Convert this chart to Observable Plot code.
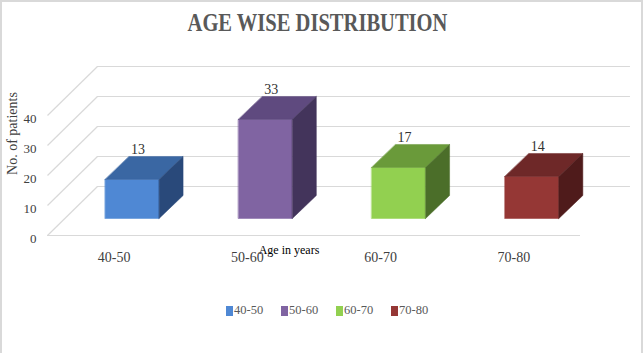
<!DOCTYPE html>
<html>
<head>
<meta charset="utf-8">
<script src="https://cdn.jsdelivr.net/npm/d3@7"></script>
<script src="https://cdn.jsdelivr.net/npm/@observablehq/plot@0.6"></script>
<style>
  body { margin: 0; background: #fff; }
  #chart { position: relative; width: 644px; height: 353px; overflow: hidden; background: #fff; }
  #chart svg { position: absolute; left: 0; top: 0; }
  #frame { position: absolute; left: 0; top: 0; width: 643px; height: 360px; box-sizing: border-box;
           border-top: 2px solid #d9d9d9; border-left: 2px solid #d9d9d9; border-right: 2px solid #d9d9d9; pointer-events: none; }
  #title { position: absolute; left: 0; width: 634px; top: 8px; text-align: center;
           font: bold 26px "Liberation Serif", "Times New Roman", serif; color: #595959; }
  #title span { display: inline-block; transform: scaleX(0.79); transform-origin: center; }
  #legend { position: absolute; left: 226px; top: 303px; display: flex; font: 12.5px "Liberation Serif", serif; color: #595959; }
  #legend .item { width: 55px; display: flex; align-items: center; }
  #legend .sw { width: 7px; height: 10px; margin-right: 1px; }
</style>
</head>
<body>
<div id="chart">
  <div id="title"><span>AGE WISE DISTRIBUTION</span></div>
  <div id="legend"></div>
  <div id="frame"></div>
</div>
<script>
// ---- data ----
const categories = ["40-50", "50-60", "60-70", "70-80"];
const patients = [13, 33, 17, 14];
const yTicks = [0, 10, 20, 30, 40];
const frontColors = ["#4f88d4", "#8064a2", "#92d050", "#953735"];
const topColors = ["#3a67a3", "#5f4a7f", "#6a9a3a", "#6e2828"];
const sideColors = ["#29497a", "#43345b", "#4b6e29", "#4f1b1b"];

// ---- 3D projection constants (in scale units) ----
const wallDX = 0.375, wallDY = 16.33;     // depth of the back wall
const barOffX = 0.135, barOffY = 5.67;    // bar front plane offset into depth
const barDX = 0.18, barDY = 7.67;         // bar depth
const barW = 0.405;                       // bar width

// build faces for each bar
const faces = [];
categories.forEach((c, i) => {
  const v = patients[i];
  const x1 = i + 0.5 - barW / 2 + barOffX, x2 = x1 + barW;
  const y1 = barOffY, y2 = barOffY + v;
  const add = (face, color, pts) => pts.forEach(([x, y]) => faces.push({key: c + face, color, x, y}));
  add("front", frontColors[i], [[x1, y1], [x2, y1], [x2, y2], [x1, y2]]);
  add("top", topColors[i], [[x1, y2], [x2, y2], [x2 + barDX, y2 + barDY], [x1 + barDX, y2 + barDY]]);
  add("side", sideColors[i], [[x2, y1], [x2 + barDX, y1 + barDY], [x2 + barDX, y2 + barDY], [x2, y2]]);
});
const labels = categories.map((c, i) => ({c, v: patients[i], x: i + 0.5 + barOffX + 0.045, y: barOffY + patients[i] + barDY}));

const grid = "#d9d9d9";
const serif = "Liberation Serif, Times New Roman, serif";

const plot = Plot.plot({
  width: 644,
  height: 353,
  marginLeft: 47,
  marginRight: 64,
  marginTop: 115,
  marginBottom: 118,
  x: {domain: [0, 4], axis: null},
  y: {domain: [0, 40], axis: null},
  color: {type: "identity"},
  style: {fontFamily: serif, background: "transparent", overflow: "visible"},
  marks: [
    // back wall gridlines
    Plot.ruleY(yTicks, {y: d => d + wallDY, x1: wallDX, x2: 4 + wallDX, stroke: grid, strokeWidth: 1.2}),
    // left wall diagonals
    Plot.link(yTicks, {x1: 0, y1: d => d, x2: wallDX, y2: d => d + wallDY, stroke: grid, strokeWidth: 1.2}),
    // front floor line
    Plot.ruleY([0], {x1: 0, x2: 4, stroke: grid, strokeWidth: 1.2}),
    // bars
    Plot.line(faces, {x: "x", y: "y", z: "key", fill: "color", stroke: "color", strokeWidth: 0.5, curve: "linear-closed"}),
    // value labels
    Plot.text(labels, {x: "x", y: "y", text: d => String(d.v), lineAnchor: "bottom", dy: -2, fontSize: 14, fill: "#333"}),
    // y axis
    Plot.axisY(yTicks, {tickSize: 0, tickPadding: 11, fontSize: 13, fill: "#404040", dy: 3, label: null}),
    // x axis
    Plot.axisX(categories.map((c, i) => i + 0.5), {tickFormat: d => categories[Math.floor(d)], tickSize: 0, tickPadding: 17, fontSize: 14, fill: "#404040", label: null}),
    Plot.text(["Age in years"], {frameAnchor: "bottom", dx: -25, dy: 18, fontSize: 12, fill: "#000", text: d => d}),
    Plot.text(["No. of patients"], {frameAnchor: "left", textAnchor: "middle", dx: -35, dy: -42, rotate: -90, fontSize: 14, fill: "#404040", text: d => d})
  ]
});
document.getElementById("chart").insertBefore(plot, document.getElementById("title"));

const legend = document.getElementById("legend");
categories.forEach((c, i) => {
  const item = document.createElement("div");
  item.className = "item";
  const sw = document.createElement("span");
  sw.className = "sw";
  sw.style.background = frontColors[i];
  const t = document.createElement("span");
  t.textContent = c;
  item.appendChild(sw);
  item.appendChild(t);
  legend.appendChild(item);
});
</script>
</body>
</html>
